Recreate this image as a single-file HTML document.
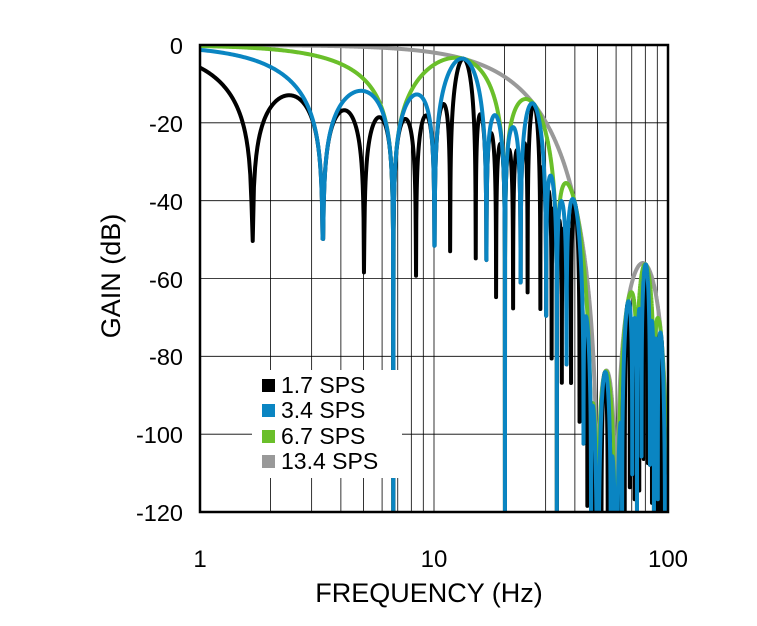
<!DOCTYPE html>
<html><head><meta charset="utf-8">
<style>
html,body{margin:0;padding:0;background:#fff;}
svg{display:block;font-family:"Liberation Sans",Arial,sans-serif;}
</style></head>
<body>
<svg id="s" width="757" height="626" viewBox="0 0 757 626" xmlns="http://www.w3.org/2000/svg">
<defs><clipPath id="c"><rect x="200" y="45" width="468" height="467"/></clipPath></defs>
<rect width="757" height="626" fill="#fff"/>
<g id="grid" stroke="#000" stroke-width="0.8"></g>
<g id="curves" clip-path="url(#c)" fill="none" stroke-width="4" stroke-linejoin="round"></g>
<rect x="200" y="45" width="468" height="467" fill="none" stroke="#000" stroke-width="2.5"/>
<g font-size="23.5" fill="#000" text-anchor="end">
<text x="183" y="54">0</text>
<text x="183" y="132">-20</text>
<text x="183" y="210">-40</text>
<text x="183" y="288">-60</text>
<text x="183" y="365">-80</text>
<text x="183" y="443">-100</text>
<text x="183" y="521">-120</text>
</g>
<g font-size="24" fill="#000" text-anchor="middle">
<text x="200" y="567">1</text>
<text x="434" y="567">10</text>
<text x="668" y="567">100</text>
</g>
<g font-size="27" fill="#000" text-anchor="middle">
<text x="429" y="602">FREQUENCY (Hz)</text>
<text transform="translate(120,276) rotate(-90)">GAIN (dB)</text>
</g>
<rect x="252" y="370" width="150" height="108" fill="#fff"/>
<g font-size="23" fill="#000">
<rect x="262" y="379" width="13" height="13" fill="#000"/><text x="281" y="393">1.7 SPS</text>
<rect x="262" y="404" width="13" height="13" fill="#0a85c2"/><text x="281" y="418">3.4 SPS</text>
<rect x="262" y="430" width="13" height="13" fill="#6abf2a"/><text x="281" y="444">6.7 SPS</text>
<rect x="262" y="455" width="13" height="13" fill="#999"/><text x="281" y="469">13.4 SPS</text>
</g>
</svg>
<script>
(function(){
var NS="http://www.w3.org/2000/svg";
var X0=200,X1=668,Y0=45,Y1=512;
function fx(f){return X0+(X1-X0)*Math.log10(f)/2;}
function fy(d){return Y0+(Y1-Y0)*(-d)/120;}
var g=document.getElementById('grid');
function line(x1,y1,x2,y2){var l=document.createElementNS(NS,'line');l.setAttribute('x1',x1);l.setAttribute('y1',y1);l.setAttribute('x2',x2);l.setAttribute('y2',y2);g.appendChild(l);}
for(var d=-20;d>-120;d-=20){line(X0,fy(d),X1,fy(d));}
[1,10].forEach(function(b){for(var k=2;k<=9;k++){var x=fx(b*k);line(x,Y0,x,Y1);}});
line(fx(10),Y0,fx(10),Y1);
function sinc(x){if(Math.abs(x)<1e-9)return 1;return Math.sin(Math.PI*x)/(Math.PI*x);}
function base(f){return sinc(f/50)*sinc(f/50)*sinc(f/60)*sinc(f/60);}
function avg(f,N){var s=Math.sin(Math.PI*f/13.4);if(Math.abs(s)<1e-9)return 1;return Math.sin(N*Math.PI*f/13.4)/(N*s);}
var series=[[1,'#999'],[2,'#6abf2a'],[8,'#000'],[4,'#0a85c2']];
var cg=document.getElementById('curves');
series.forEach(function(s){
 var pts=[];
 for(var f=1.0;f<=100.001;f+=0.02){
  var h=Math.abs(base(f)*avg(f,s[0]));
  var db=20*Math.log10(Math.max(h,1e-9));
  if(db<-125)db=-125;
  pts.push(fx(f).toFixed(2)+','+fy(db).toFixed(2));
 }
 var p=document.createElementNS(NS,'polyline');
 p.setAttribute('points',pts.join(' '));
 p.setAttribute('stroke',s[1]);
 cg.appendChild(p);
});
})();
</script>
</body></html>
